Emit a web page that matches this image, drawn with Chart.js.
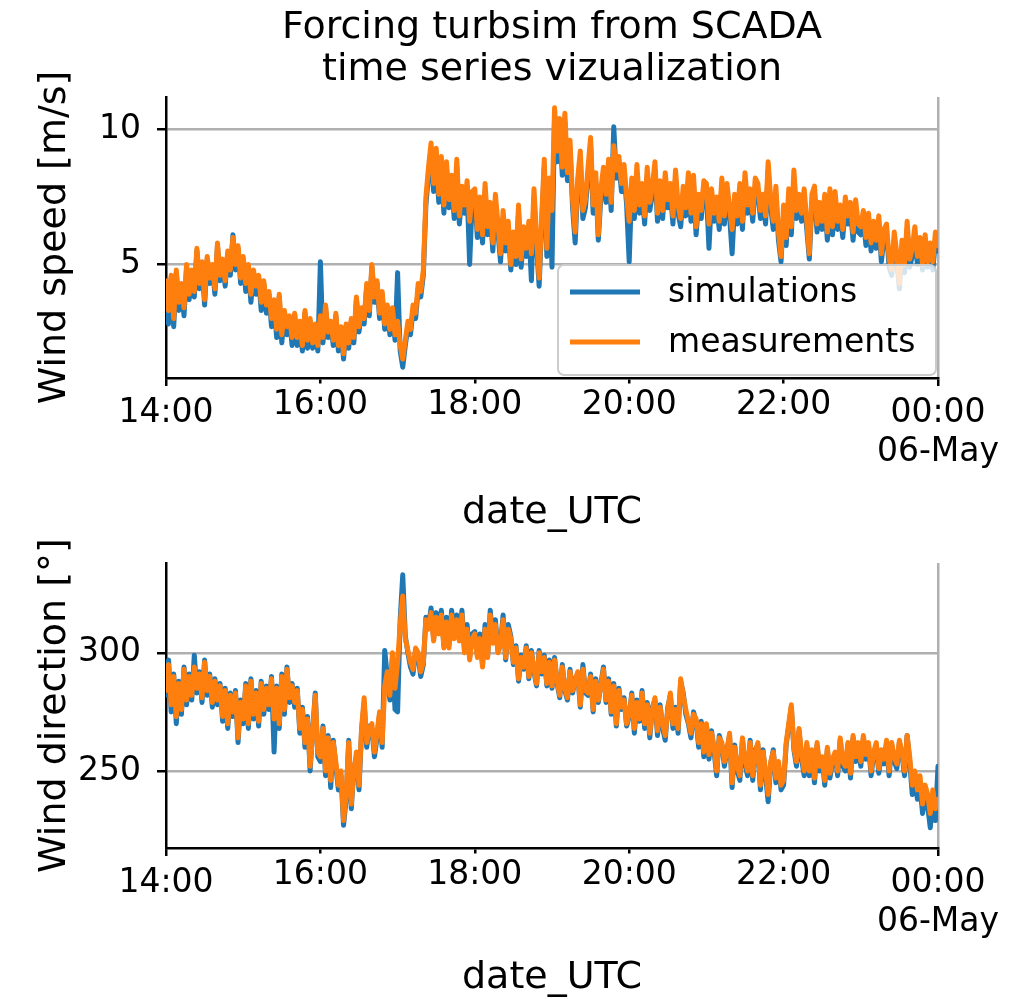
<!DOCTYPE html>
<html>
<head>
<meta charset="utf-8">
<title>Forcing turbsim from SCADA</title>
<script src="https://cdn.jsdelivr.net/npm/chart.js@4.4.0/dist/chart.umd.min.js"></script>
<style>
  html, body { margin: 0; padding: 0; background: #fff; overflow: hidden; }
  #wrap { position: relative; width: 1025px; height: 999px; }
  #speedChart { position: absolute; left: 0; top: 0; }
  #dirChart { position: absolute; left: 0; top: 480px; }
</style>
</head>
<body>
<div id="wrap">
  <canvas id="speedChart" width="1025" height="550"></canvas>
  <canvas id="dirChart" width="1025" height="519"></canvas>
</div>
<script>
/** Time axis: minutes after 14:00, one sample every 2 minutes until midnight **/
const stepMinutes = 2;
const xTickValues = [0, 120, 240, 360, 480, 600];
const xTickLabels = ["14:00", "16:00", "18:00", "20:00", "22:00", ["00:00", "06-May"]];
const xMajorTicks = [0, 600];

const speedTicks = [5, 10];
const dirTicks = [250, 300];

/** Wind speed [m/s], one row per 20 minutes **/
const speedSim = [
  4.2, 2.8, 4.5, 2.7, 4.7, 3.3, 4.1, 3.1, 4.9, 3.7,
  4.7, 3.8, 5.5, 4.1, 5.0, 3.5, 5.2, 4.3, 4.9, 3.9,
  5.7, 4.4, 5.1, 4.2, 5.4, 4.6, 6.1, 4.8, 5.6, 4.3,
  5.2, 4.0, 4.9, 3.6, 4.7, 3.9, 4.5, 3.3, 4.3, 3.2,
  3.9, 2.7, 3.6, 2.3, 3.8, 2.1, 3.2, 2.4, 3.0, 2.0,
  3.1, 2.0, 2.8, 1.8, 3.2, 1.9, 2.9, 1.9, 2.7, 1.8,
  5.1, 2.1, 3.4, 2.3, 2.8, 2.0, 3.1, 1.8, 2.6, 1.5,
  2.7, 1.9, 2.9, 2.1, 3.7, 2.5, 3.3, 2.8, 4.2, 3.1,
  4.9, 3.6, 4.3, 3.0, 3.9, 2.6, 3.4, 2.4, 3.3, 2.2,
  4.7, 1.8, 1.2, 2.0, 2.7, 2.4, 3.3, 3.0, 4.1, 3.8,
  4.6, 7.2, 8.3, 8.9, 7.7, 8.8, 7.3, 8.6, 6.9, 8.5,
  7.1, 8.0, 6.7, 8.6, 6.5, 7.6, 6.9, 7.8, 5.0, 7.4,
  7.5, 6.0, 7.2, 5.8, 7.7, 6.1, 7.0, 5.5, 7.3, 6.2,
  5.1, 6.7, 5.5, 6.3, 4.8, 5.9, 5.0, 6.9, 4.9, 6.1,
  5.3, 6.3, 4.4, 7.5, 5.7, 4.2, 6.5, 8.6, 5.3, 7.9,
  4.9, 10.5, 8.8, 10.1, 8.3, 10.3, 8.1, 9.3, 7.1, 5.8,
  7.9, 8.9, 6.7, 7.1, 8.3, 9.4, 6.9, 8.1, 5.9, 7.5,
  8.3, 7.3, 8.6, 7.0, 10.1, 8.2, 8.7, 7.7, 8.4, 7.2,
  5.1, 7.9, 6.7, 8.4, 6.9, 7.7, 6.5, 8.3, 7.0, 7.6,
  8.5, 6.6, 7.8, 6.7, 8.1, 7.1, 7.7, 6.5, 8.2, 6.9,
  6.4, 7.6, 6.8, 8.1, 6.6, 8.0, 6.1, 7.3, 6.7, 7.8,
  7.7, 5.6, 7.5, 6.6, 7.2, 6.3, 7.9, 6.5, 7.7, 6.8,
  5.4, 7.3, 6.5, 7.7, 6.3, 8.1, 6.9, 7.5, 6.6, 7.9,
  7.7, 6.7, 7.3, 6.5, 8.5, 7.1, 6.3, 7.6, 5.9, 5.1,
  6.9, 5.7, 7.5, 6.1, 8.2, 6.7, 7.3, 6.6, 7.5, 6.3,
  5.2, 7.3, 7.6, 6.2, 7.0, 6.3, 7.3, 5.9, 7.5, 6.1,
  7.4, 6.3, 6.9, 6.0, 7.2, 6.5, 7.0, 5.9, 7.1, 6.2,
  6.1, 6.7, 5.7, 6.6, 5.5, 6.3, 5.6, 6.5, 5.1, 6.0,
  6.2, 4.9, 4.6, 5.9, 5.1, 4.1, 5.6, 4.7, 6.3, 4.9,
  5.3, 6.1, 5.0, 5.7, 4.8, 5.8, 4.9, 5.5, 4.8, 5.9,
  5.5
];
const speedMeas = [
  4.4, 3.3, 4.6, 3.0, 4.8, 3.6, 4.3, 3.4, 5.0, 3.9,
  4.8, 4.0, 5.6, 4.3, 5.1, 3.7, 5.3, 4.5, 5.0, 4.1,
  5.8, 4.6, 5.2, 4.4, 5.5, 4.8, 6.0, 5.0, 5.7, 4.5,
  5.3, 4.3, 5.0, 3.9, 4.8, 4.2, 4.6, 3.6, 4.4, 3.5,
  4.0, 3.0, 3.7, 2.6, 3.9, 2.4, 3.3, 2.7, 3.1, 2.3,
  3.2, 2.3, 2.9, 2.0, 3.3, 2.2, 3.0, 2.1, 2.8, 2.0,
  3.1, 2.3, 3.5, 2.5, 2.9, 2.2, 3.2, 2.0, 2.7, 1.7,
  2.8, 2.1, 3.0, 2.3, 3.8, 2.7, 3.4, 3.0, 4.3, 3.3,
  5.0, 3.8, 4.4, 3.2, 4.0, 2.8, 3.5, 2.6, 3.4, 2.4,
  2.9, 2.0, 1.5, 2.2, 2.9, 2.6, 3.5, 3.2, 4.3, 4.0,
  4.8, 7.5, 8.6, 9.5, 8.0, 9.3, 7.6, 9.0, 7.2, 8.8,
  7.4, 8.3, 7.0, 8.9, 6.8, 7.9, 7.2, 8.1, 6.6, 7.7,
  7.8, 6.3, 7.5, 6.1, 8.0, 6.4, 7.3, 5.8, 7.6, 6.5,
  5.4, 7.0, 5.8, 6.6, 5.0, 6.2, 5.3, 7.2, 5.2, 6.4,
  5.6, 6.6, 5.4, 7.8, 6.0, 4.5, 6.8, 8.9, 5.6, 8.2,
  7.0, 10.8, 9.2, 10.4, 8.6, 10.6, 8.4, 9.6, 7.4, 6.2,
  8.2, 9.2, 7.0, 7.4, 8.6, 9.7, 7.2, 8.4, 6.1, 7.8,
  8.6, 7.6, 8.9, 7.3, 9.4, 8.5, 9.0, 8.0, 8.7, 7.5,
  6.6, 8.2, 7.0, 8.7, 7.2, 8.0, 6.8, 8.6, 7.3, 7.9,
  8.8, 6.9, 8.1, 7.0, 8.4, 7.4, 8.0, 6.8, 8.5, 7.2,
  6.7, 7.9, 7.1, 8.4, 6.9, 8.3, 6.4, 7.6, 7.0, 8.1,
  8.0, 6.5, 7.8, 6.9, 7.5, 6.6, 8.2, 6.8, 8.0, 7.1,
  6.3, 7.6, 6.8, 8.0, 6.6, 8.4, 7.2, 7.8, 6.9, 8.2,
  8.0, 7.0, 7.6, 6.8, 8.8, 7.4, 6.6, 7.9, 6.2, 5.3,
  7.2, 6.0, 7.8, 6.4, 8.5, 7.0, 7.6, 6.9, 7.8, 6.6,
  5.4, 7.6, 7.9, 6.5, 7.3, 6.6, 7.6, 6.2, 7.8, 6.4,
  7.7, 6.6, 7.2, 6.3, 7.5, 6.8, 7.3, 6.2, 7.4, 6.5,
  6.4, 7.0, 6.0, 6.9, 5.8, 6.6, 5.9, 6.8, 5.4, 6.3,
  6.5, 5.2, 4.8, 6.2, 5.4, 4.3, 5.9, 5.0, 6.6, 5.2,
  5.6, 6.4, 5.3, 6.0, 5.0, 6.1, 5.1, 5.8, 5.1, 6.2,
  5.7
];

/** Wind direction [deg], one row per 20 minutes **/
const dirSim = [
  282, 297, 275, 291, 270, 288, 274, 294, 278, 291,
  280, 299, 283, 292, 279, 297, 282, 291, 277, 289,
  278, 287, 271, 285, 268, 283, 273, 284, 262, 280,
  270, 287, 268, 289, 272, 284, 269, 288, 274, 286,
  276, 290, 258, 286, 268, 291, 274, 294, 279, 287,
  277, 285, 266, 277, 260, 273, 250, 267, 283, 256,
  254, 269, 248, 265, 243, 263, 252, 242, 248, 227,
  238, 263, 234, 251, 256, 242, 267, 279, 260, 269,
  268, 256, 264, 274, 260, 301, 290, 280, 298, 276,
  275, 314, 333, 307, 300, 294, 291, 301, 298, 290,
  295, 315, 311, 319, 306, 317, 309, 318, 303, 315,
  304, 318, 307, 316, 306, 318, 301, 312, 298, 308,
  309, 299, 308, 295, 312, 299, 318, 305, 314, 301,
  304, 316, 297, 312, 307, 295, 303, 288, 299, 293,
  303, 289, 301, 292, 286, 301, 291, 299, 286, 297,
  285, 298, 287, 281, 295, 284, 280, 293, 283, 289,
  291, 277, 295, 283, 282, 291, 275, 289, 279, 287,
  294, 279, 289, 274, 287, 269, 285, 276, 281, 269,
  273, 283, 266, 280, 271, 284, 268, 279, 264, 277,
  280, 265, 278, 268, 263, 277, 282, 268, 277, 266,
  288, 283, 274, 270, 264, 275, 271, 260, 271, 256,
  269, 255, 267, 258, 248, 265, 261, 252, 259, 265,
  243, 261, 250, 246, 263, 253, 248, 263, 246, 259,
  261, 242, 259, 248, 237, 253, 259, 245, 253, 242,
  244, 261, 269, 277, 259, 252, 267, 255, 248, 261,
  248, 258, 245, 261, 250, 255, 244, 259, 247, 254,
  257, 248, 263, 252, 250, 261, 247, 264, 254, 261,
  252, 264, 255, 261, 248, 257, 261, 249, 258, 253,
  261, 248, 261, 254, 251, 262, 257, 248, 265, 254,
  240, 247, 238, 244, 232, 240, 235, 226, 238, 229,
  252
];
const dirMeas = [
  284, 295, 278, 290, 273, 287, 276, 293, 280, 290,
  282, 294, 285, 291, 281, 296, 284, 290, 279, 288,
  280, 286, 273, 284, 270, 282, 275, 283, 264, 279,
  272, 286, 270, 288, 274, 283, 271, 287, 276, 285,
  278, 289, 272, 285, 270, 290, 276, 293, 281, 286,
  279, 284, 268, 276, 262, 272, 252, 266, 282, 258,
  256, 268, 250, 264, 246, 262, 254, 244, 250, 229,
  240, 262, 236, 250, 258, 244, 268, 281, 262, 268,
  270, 258, 266, 275, 262, 286, 292, 282, 300, 285,
  296, 312, 324, 306, 301, 296, 293, 302, 300, 292,
  296, 314, 310, 317, 305, 315, 308, 316, 302, 313,
  302, 316, 306, 314, 305, 316, 300, 310, 297, 306,
  308, 298, 306, 294, 310, 298, 316, 304, 312, 300,
  303, 314, 298, 310, 306, 296, 302, 289, 298, 294,
  302, 290, 300, 293, 287, 300, 292, 298, 287, 296,
  286, 297, 288, 282, 294, 285, 281, 292, 284, 288,
  292, 278, 293, 284, 283, 290, 276, 288, 280, 286,
  293, 280, 288, 275, 286, 270, 284, 277, 280, 270,
  274, 282, 268, 279, 272, 283, 270, 278, 266, 276,
  281, 267, 277, 270, 265, 276, 283, 270, 276, 268,
  289, 282, 276, 271, 266, 274, 272, 262, 270, 258,
  270, 257, 266, 260, 250, 264, 262, 254, 258, 266,
  245, 260, 252, 248, 264, 255, 250, 262, 248, 258,
  262, 244, 258, 250, 240, 254, 258, 247, 254, 244,
  246, 262, 270, 278, 260, 254, 268, 257, 250, 262,
  250, 259, 247, 262, 252, 256, 246, 260, 249, 255,
  258, 250, 264, 254, 252, 262, 249, 265, 256, 262,
  254, 265, 257, 262, 250, 258, 262, 251, 259, 255,
  263, 250, 262, 256, 253, 263, 258, 250, 265, 256,
  244, 250, 242, 248, 236, 244, 240, 232, 242, 234,
  238
];

const blue = "#1f77b4";
const orange = "#ff7f0e";
const gridColor = "#b0b0b0";

Chart.defaults.font.family = "'DejaVu Sans', sans-serif";
Chart.defaults.color = "#000";

/** Pair every value with its sample time **/
function toPoints(values) {
  return values.map((v, i) => ({ x: i * stepMinutes, y: v }));
}

function isMajor(ctx) {
  return ctx.tick && xMajorTicks.includes(ctx.tick.value);
}

function makeDatasets(sim, meas) {
  //  measurements drawn over the simulations (lower order = on top)
  return [
    { label: "simulations", data: toPoints(sim), borderColor: blue, order: 1 },
    { label: "measurements", data: toPoints(meas), borderColor: orange, order: 0 },
  ];
}

/** Axis setup shared by both panels **/
function makeScales(o) {
  return {
    x: {
      type: "linear",
      min: 0,
      max: 600,
      afterBuildTicks: (scale) => {
        scale.ticks = xTickValues.map((v) => ({ value: v }));
      },
      afterFit: (scale) => {
        scale.height = o.xHeight;
      },
      grid: {
        // only the major ticks get a grid line; the one at 14:00 sits under the spine
        color: (ctx) => (ctx.tick && ctx.tick.value === 600 ? gridColor : "rgba(0,0,0,0)"),
        lineWidth: 2.5,
        tickColor: "#000",
        tickWidth: 2.5,
        tickLength: 8,
        tickBorderDash: (ctx) => (isMajor(ctx) ? [] : [4, 40]),
      },
      border: { display: true, color: "#000", width: 2.5 },
      ticks: {
        autoSkip: false,
        maxRotation: 0,
        padding: 8,
        font: (ctx) => ({ size: 33, lineHeight: isMajor(ctx) ? 39 / 33 : 23 / 33 }),
        callback: (value, index) => xTickLabels[index],
      },
      title: {
        display: true,
        text: "date_UTC",
        font: { size: 38, lineHeight: 1 },
        padding: { top: 0, bottom: o.xTitlePad },
      },
    },
    y: {
      min: o.yMin,
      max: o.yMax,
      afterBuildTicks: (scale) => {
        scale.ticks = o.yTicks.map((v) => ({ value: v }));
      },
      afterFit: (scale) => {
        scale.width = 166;
      },
      grid: { color: gridColor, lineWidth: 2.5, tickColor: "#000", tickWidth: 2.5, tickLength: 9 },
      border: { display: true, color: "#000", width: 2.5 },
      ticks: { font: { size: 33 }, padding: 16 },
      title: {
        display: true,
        text: o.yTitle,
        font: { size: 38, lineHeight: 1 },
        padding: { top: 36, bottom: 0 },
      },
    },
  };
}

/** Legend box in the lower right corner of the wind speed panel **/
const legendBox = {
  id: "legendBox",
  afterDatasetsDraw(chart) {
    const { ctx, chartArea } = chart;
    const w = 378, h = 110;
    const x0 = chartArea.right - w - 2;
    const y0 = chartArea.bottom - h - 3;
    ctx.save();
    ctx.beginPath();
    ctx.roundRect(x0, y0, w, h, 6);
    ctx.fillStyle = "rgba(255,255,255,0.8)";
    ctx.fill();
    ctx.lineWidth = 2;
    ctx.strokeStyle = "#cccccc";
    ctx.stroke();

    ctx.font = "33px 'DejaVu Sans'";
    ctx.textBaseline = "middle";
    ctx.fillStyle = "#000";
    chart.data.datasets.forEach((ds, i) => {
      const yy = y0 + 27 + i * 50;
      ctx.beginPath();
      ctx.moveTo(x0 + 12, yy);
      ctx.lineTo(x0 + 82, yy);
      ctx.lineWidth = 5;
      ctx.strokeStyle = ds.borderColor;
      ctx.stroke();
      ctx.fillText(ds.label, x0 + 110, yy + 1);
    });
    ctx.restore();
  },
};

const common = {
  type: "line",
  options: {
    responsive: false,
    animation: false,
    devicePixelRatio: 1,
    events: [],
    elements: {
      point: { radius: 0 },
      line: { borderWidth: 5, tension: 0, borderJoinStyle: "round", borderCapStyle: "round" },
    },
  },
};

new Chart(document.getElementById("speedChart"), {
  type: common.type,
  data: { datasets: makeDatasets(speedSim, speedMeas) },
  plugins: [legendBox],
  options: {
    ...common.options,
    layout: { padding: { left: 0, right: 87, top: 0, bottom: 0 } },
    plugins: {
      legend: { display: false },
      tooltip: { enabled: false },
      title: {
        display: true,
        fullSize: false,
        text: ["Forcing turbsim from SCADA", "time series vizualization"],
        color: "#000",
        font: { size: 38, weight: "normal", lineHeight: 1.1 },
        padding: { top: 7, bottom: 6.4 },
      },
    },
    scales: makeScales({
      xHeight: 172,
      xTitlePad: 18,
      yMin: 0.8,
      yMax: 11.2,
      yTicks: speedTicks,
      yTitle: "Wind speed [m/s]",
    }),
  },
});

new Chart(document.getElementById("dirChart"), {
  type: common.type,
  data: { datasets: makeDatasets(dirSim, dirMeas) },
  options: {
    ...common.options,
    layout: { padding: { left: 0, right: 87, top: 83, bottom: 0 } },
    plugins: {
      legend: { display: false },
      tooltip: { enabled: false },
    },
    scales: makeScales({
      xHeight: 151,
      xTitlePad: 2,
      yMin: 217.4,
      yMax: 338,
      yTicks: dirTicks,
      yTitle: "Wind direction [°]",
    }),
  },
});
</script>
</body>
</html>
